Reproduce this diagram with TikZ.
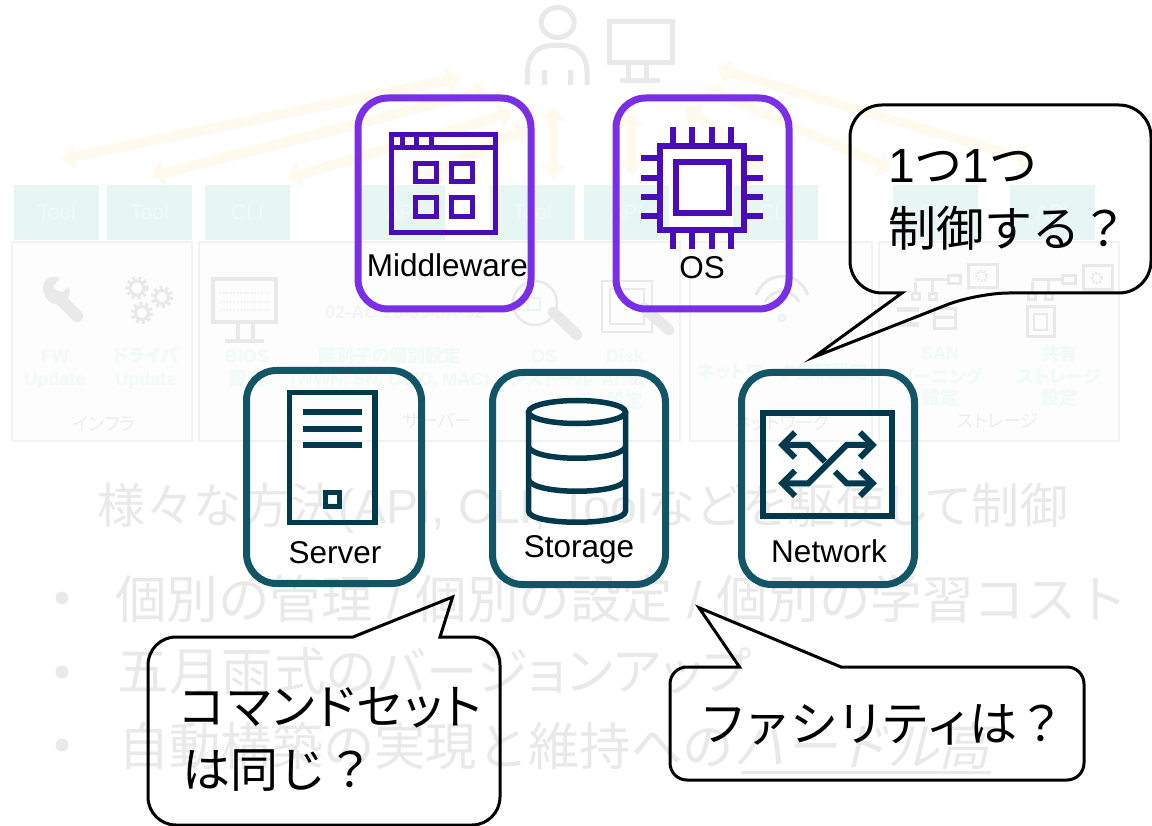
\documentclass[tikz,border=0pt]{standalone}
\usepackage{fontspec}
\usetikzlibrary{arrows.meta}
\setmainfont{Liberation Sans}
\newfontfamily\jp[RawFeature=+palt]{Noto Sans CJK JP}
\newfontfamily\jpf{Noto Sans CJK JP}
\newfontfamily\jpa[RawFeature=+palt,LetterSpace=4]{Noto Sans CJK JP}
\newfontfamily\jpb[RawFeature=+palt,LetterSpace=9]{Noto Sans CJK JP}
\newfontfamily\jpc[RawFeature=+palt,LetterSpace=2.5]{Noto Sans CJK JP}
\newfontfamily\jpd[RawFeature=+palt,LetterSpace=1.6]{Noto Sans CJK JP}
\newfontfamily\jpsl[FakeSlant=0.25]{Noto Sans CJK JP}
\newcommand{\fs}[1]{\fontsize{#1}{#1}\selectfont}
\definecolor{fadegrey}{HTML}{E9E9E9}
\definecolor{fadearrow}{HTML}{FFFAEC}
\definecolor{fadeshadow}{HTML}{FAFAF8}
\definecolor{fadeteal}{HTML}{E7F6F2}
\definecolor{fadetealtext}{HTML}{F1FAF8}
\definecolor{fadegreen}{HTML}{F0FAF7}
\definecolor{panelline}{HTML}{F1F2F3}
\definecolor{panelfill}{HTML}{FDFDFD}
\definecolor{purpleedge}{HTML}{7A2FE6}
\definecolor{purpleicon}{HTML}{4A0CB8}
\definecolor{tealedge}{HTML}{115567}
\definecolor{tealicon}{HTML}{03394D}
\tikzset{
  farrow/.style={line width=8pt,color=fadearrow,{Triangle[width=23pt,length=12pt]}-{Triangle[width=23pt,length=12pt]}},
  fshadow/.style={line width=8pt,color=fadeshadow,{Triangle[width=23pt,length=12pt]}-{Triangle[width=23pt,length=12pt]}},
  panelbox/.style={draw=panelline,fill=panelfill,line width=2pt},
  tabbox/.style={fill=fadeteal,draw=none},
  tablabel/.style={text=fadetealtext,font=\fs{21}},
  biglabel/.style={text=fadegrey,anchor=base west,inner sep=0pt},
  smallgreen/.style={text=fadegreen,font=\fs{18}\bfseries,inner sep=0pt,anchor=base},
  panelname/.style={text=fadegrey!80!white,font=\jp\fs{18},inner sep=0pt,anchor=base},
  ficon/.style={draw=fadegrey,line width=3pt},
  purplebox/.style={draw=purpleedge,line width=7pt,rounded corners=30pt},
  tealbox/.style={draw=tealedge,line width=7pt,rounded corners=30pt},
  picon/.style={draw=purpleicon,line width=5.5pt},
  ticon/.style={draw=tealicon,line width=5.5pt},
  boxlabel/.style={text=black,font=\fs{31.5},inner sep=0pt,anchor=base},
  callout/.style={draw=black,line width=3pt,miter limit=10},
  calltext/.style={text=black,font=\jp\fs{48},inner sep=0pt,anchor=base west},
}
\begin{document}
\begin{tikzpicture}[x=1pt,y=-1pt]
\useasboundingbox (0,0) rectangle (1152,826);
\fill[white] (0,0) rectangle (1152,826);

%% faded layer: person and monitor
\begin{scope}[draw=fadegrey,line width=5pt]
  \draw (557.7,22.5) ellipse (16.5 and 15);
  \draw (527.5,85) -- (527.5,72) .. controls (527.5,55) and (538,45.5) .. (552,45.5) -- (563,45.5) .. controls (577,45.5) and (587,55) .. (587,72) -- (587,85);
  \draw (544,70) -- (544,85) (570,70) -- (570,85);
  \draw (609.5,21.5) rectangle (672,62.5);
  \draw (628,65) -- (628,80) (646,65) -- (646,80);
  \draw (620,80.5) -- (660,80.5);
\end{scope}

%% faded arrows
\foreach \xa/\ya/\xb/\yb in {62/158/459/77, 152/175/487/90, 288/177/511/112, 423/177/527/128, 553/107/553/177, 631/113/631/173, 717/68/1033/160, 707/88/890/168, 685/107/767/165}{
  \draw[fshadow] (\xa+1,\ya+2) -- (\xb+1,\yb+2);
  \draw[farrow] (\xa,\ya) -- (\xb,\yb);
}

%% faded panels
\draw[panelbox] (12,242) rectangle (192,441);
\draw[panelbox] (199,242) rectangle (680,441);
\draw[panelbox] (690,242) rectangle (872,441);
\draw[panelbox] (879,242) rectangle (1119,441);

%% faded tabs
\foreach \nm/\xa/\txt in {ta/14/Tool, tb/107/Tool, tc/205/CLI, td/360/API, te/490/Tool, tf/584/API, tg/733/CLI, th/893/CLI, ti/1010/API}{
  \fill[tabbox] (\xa,185) rectangle (\xa+85,240);
  \node[tablabel] (\nm) at (\xa+42.5,212) {\txt};
}

%% faded panel icons: wrench
\draw[fadegrey,line width=12pt,line cap=round] (58,297) -- (77,316);
\fill[fadegrey] (43,288) .. controls (43,278) and (52,275) .. (60,278) -- (53,287) -- (60,294) -- (69,287) .. controls (72,297) and (64,306) .. (54,304) .. controls (47,302) and (43,295) .. (43,288) -- cycle;
%% gears
\foreach \cx/\cy/\rr in {137/288/7, 162/297/6.5, 142/313/6.5}{
  \draw[fadegrey,line width=3pt] (\cx,\cy) circle (\rr);
  \draw[fadegrey,line width=3.5pt,dash pattern=on 3pt off 3pt] (\cx,\cy) circle (\rr+3);
}
%% BIOS monitor
\draw[ficon,line width=4.5pt] (213,279) rectangle (276,322);
\foreach \yy in {293,302,310}{\draw[fadegrey!60!white,line width=1.5pt,dash pattern=on 2pt off 1.5pt] (219,\yy) -- (271,\yy);}
\draw[ficon,line width=4.5pt] (238,323) -- (238,340) (253,323) -- (253,340);
\draw[ficon,line width=4.5pt] (225,341) -- (264,341);
%% OS magnifier
\draw[ficon,line width=2.5pt] (535,303) circle (22);
\draw[fadegrey,line width=11pt,line cap=round] (553,312) -- (577,335);
\draw[fadeteal,line width=1.5pt] (528,298) rectangle (540,310);
%% disk
\draw[ficon,line width=2.5pt] (602,281) rectangle (652,332);
\draw[ficon,line width=2pt] (610,289) rectangle (644,324);
\draw[fadegrey,line width=11pt,line cap=round] (644,308) -- (669,330);
%% wifi
\draw[ficon,line width=3pt] (756,295) .. controls (766,270) and (798,270) .. (808,295);
\draw[ficon,line width=3pt] (765,302) .. controls (772,288) and (792,288) .. (799,302);
\draw[fadeteal,line width=2.5pt] (782,318) circle (3);
%% SAN
\begin{scope}[fadegrey,line width=2.5pt]
  \draw[ficon] (968,265) rectangle (997,288);
  \draw[ficon,line width=2.5pt,dash pattern=on 2pt off 1.5pt] (982,276) circle (5);
  \draw[ficon] (948,276) rectangle (960,284);
  \draw[ficon] (915,282) -- (915,293) (915,280) -- (948,280) (932,280) -- (932,293);
  \draw[ficon] (912,294) rectangle (919,300) (929,294) rectangle (936,300);
  \draw[ficon,line width=5pt] (897,310) -- (919,310) (897,325) -- (919,325);
  \draw[ficon] (934,309) rectangle (955,329) (934,318) -- (955,318);
  \draw[ficon] (1083,266) rectangle (1112,290);
  \draw[ficon,line width=2.5pt,dash pattern=on 2pt off 1.5pt] (1097,278) circle (5);
  \draw[ficon] (1062,276) rectangle (1075,284);
  \draw[ficon] (1032,282) -- (1032,293) (1032,280) -- (1062,280) (1048,280) -- (1048,293);
  \draw[ficon] (1028,294) rectangle (1035,300) (1045,294) rectangle (1052,300);
  \draw[ficon] (1027,307) rectangle (1054,337);
  \draw[ficon,line width=2pt] (1034,314) rectangle (1047,330);
\end{scope}
\node[text=fadegrey!50!white,font=\fs{18}\bfseries,inner sep=0pt,anchor=base] (mac) at (405,319) {02-AC-29-39-0A-92};

%% faded small labels
\node[smallgreen] (l1a) at (55,363) {FW};
\node[smallgreen] (l1b) at (55,386) {Update};
\node[smallgreen,font=\jp\fs{18}\bfseries] (l2a) at (146,363) {ドライバ};
\node[smallgreen] (l2b) at (146,386) {Update};
\node[smallgreen] (l3a) at (247,363) {BIOS};
\node[smallgreen,font=\jp\fs{18}\bfseries] (l3b) at (247,386) {設定};
\node[smallgreen,font=\jp\fs{18}\bfseries] (l4a) at (390,363) {識別子の個別設定};
\node[smallgreen] (l4b) at (390,386) {(WWN, SN, UUID, MAC)};
\node[smallgreen] (l5a) at (544,363) {OS};
\node[smallgreen,font=\jp\fs{18}\bfseries] (l5b) at (544,386) {インストール};
\node[smallgreen] (l6a) at (625,363) {Disk};
\node[smallgreen] (l6b) at (625,386) {Array};
\node[smallgreen,font=\jp\fs{18}\bfseries] (l6c) at (625,407) {設定};
\node[smallgreen,font=\jp\fs{18}\bfseries] (l7) at (783,379) {ネットワーク接続設定};
\node[smallgreen] (l8a) at (940,360) {SAN};
\node[smallgreen,font=\jp\fs{18}\bfseries] (l8b) at (940,384) {ゾーニング};
\node[smallgreen,font=\jp\fs{18}\bfseries] (l8c) at (940,405) {設定};
\node[smallgreen,font=\jp\fs{18}\bfseries] (l9a) at (1059,361) {共有};
\node[smallgreen,font=\jp\fs{18}\bfseries] (l9b) at (1059,384) {ストレージ};
\node[smallgreen,font=\jp\fs{18}\bfseries] (l9c) at (1059,405) {設定};
\node[panelname] (p1) at (104,431) {インフラ};
\node[panelname] (p2) at (438,428) {サーバー};
\node[panelname] (p3) at (782,429) {ネットワーク};
\node[panelname] (p4) at (998,428) {ストレージ};

%% faded big text
\node[biglabel,font=\fs{48}] (h) at (97,523) {{\jpc 様々な方法}(API, CLI, Tool{\jpc などを駆使して制御}};
\fill[fadegrey] (62,598) circle (6.5) (62,672) circle (6.5) (62,745) circle (6.5);
\node[biglabel,font=\fs{51.5}] (b1) at (115,618) {{\jpf 個別の管理} / {\jpf 個別の設定} / {\jpf 個別の学習コスト}};
\node[biglabel,font=\jpd\fs{51.5}] (b2) at (117,690) {五月雨式のバージョンアップ};
\node[biglabel,font=\jpf\fs{51.3}] (b3) at (118,765) {自動構築の実現と維持への{\jpsl ハードル高}};
\draw[fadegrey,line width=3pt] (741,772) -- (991,772);

%% foreground: purple boxes
\draw[purplebox] (358,98) rectangle (531,309);
\draw[purplebox] (616,98) rectangle (789,309);
%% middleware icon
\draw[picon,line width=5pt] (391.5,134.5) rectangle (495.5,232.5);
\draw[picon,line width=5pt] (391.5,147.5) -- (495.5,147.5);
\draw[picon,line width=5pt] (402.5,134.5) -- (402.5,147.5) (416.5,134.5) -- (416.5,147.5) (431,134.5) -- (431,147.5);
\draw[picon,line width=5pt] (415,163.5) rectangle (436,181.5) (451.5,163.5) rectangle (472.5,181.5) (415,197.5) rectangle (436,216.5) (451.5,197.5) rectangle (472.5,216.5);
%% chip icon
\draw[picon,line width=6pt] (660,146) rectangle (744,230);
\draw[picon,line width=6pt] (676,162) rectangle (729,213);
\foreach \pp in {672.7,692,711.7,731.3}{
  \draw[picon,line width=6pt] (\pp,127) -- (\pp,143);
  \draw[picon,line width=6pt] (\pp,233) -- (\pp,249);
}
\foreach \pp in {158,177.7,197,216.3}{
  \draw[picon,line width=6pt] (641,\pp) -- (657,\pp);
  \draw[picon,line width=6pt] (747,\pp) -- (763,\pp);
}
\node[boxlabel] (mw) at (447.5,277) {Middleware};
\node[boxlabel] (os) at (702,279) {OS};

%% teal boxes
\draw[tealbox] (246.5,370.5) rectangle (421.5,583.5);
\draw[tealbox] (492.5,372.5) rectangle (665.5,584.5);
\draw[tealbox] (741.5,372.5) rectangle (914.5,584.5);
%% server icon
\draw[ticon] (289.5,392.5) rectangle (375,522.5);
\draw[ticon,line width=6pt] (302.7,412) -- (361.7,412) (302.7,428.7) -- (361.7,428.7) (302.7,444.7) -- (361.7,444.7);
\draw[ticon] (325.5,492.7) rectangle (339.3,506.3);
%% storage icon
\draw[ticon,line width=5.5pt] (577,412) ellipse (48.5 and 11.5);
\draw[ticon,line width=5.5pt] (528.5,412) -- (528.5,511) .. controls (528.5,526) and (625.5,526) .. (625.5,511) -- (625.5,412);
\draw[ticon,line width=5.5pt] (528.5,447) .. controls (535,462) and (619,462) .. (625.5,447);
\draw[ticon,line width=5.5pt] (528.5,480) .. controls (535,495) and (619,495) .. (625.5,480);
%% switch icon
\draw[ticon,line width=6pt] (763,413) rectangle (892,516);
\begin{scope}[shift={(490,370)},scale=1/3,miter limit=4]
  \draw[ticon,line width=6pt] (915,187) -- (877,225) -- (915,263);
  \draw[ticon,line width=6pt] (915,302) -- (877,340) -- (915,378);
  \draw[ticon,line width=6pt] (1110,187) -- (1148,225) -- (1110,263);
  \draw[ticon,line width=6pt] (1110,302) -- (1148,340) -- (1110,378);
  \draw[ticon,line width=6pt] (877,225) -- (955,225) -- (1005,275);
  \draw[ticon,line width=6pt] (1035,305) -- (1070,340) -- (1148,340);
  \draw[ticon,line width=6pt] (877,340) -- (955,340) -- (1070,225) -- (1148,225);
\end{scope}
\node[boxlabel] (sv) at (335,563) {Server};
\node[boxlabel] (st) at (579,557) {Storage};
\node[boxlabel] (nw) at (829,562) {Network};

%% callouts
\draw[callout,rounded corners=32pt] (1000,105) -- (1151,105) -- (1151,293) -- (977,293) [sharp corners] -- (814,357) -- (902,293) [rounded corners=32pt] -- (850,293) -- (850,105) -- cycle;
\node[calltext,font=\fs{48}] (c1a) at (888,183) {1{\jpf つ}1{\jpf つ}};
\node[calltext,font=\jpf\fs{48}] (c1b) at (888,247) {制御する？};

\draw[callout,rounded corners=28pt] (250,637) [sharp corners] -- (353,637) -- (452.6,597) -- (440,637) [rounded corners=28pt] -- (500,637) -- (500,825) -- (148,825) -- (148,637) -- cycle;
\node[calltext,font=\jpa\fs{48}] (c2a) at (180,724) {コマンドセット};
\node[calltext,font=\jpf\fs{48}] (c2b) at (182,787) {は同じ？};

\draw[callout,rounded corners=17pt] (700,667) [sharp corners] -- (739.5,667) -- (699,607.7) -- (841,667) [rounded corners=17pt] -- (1084,667) -- (1084,780) -- (670,780) -- (670,667) -- cycle;
\node[calltext,font=\jpb\fs{48}] (c3) at (703,741) {ファシリティは{\jpf ？}};
\end{tikzpicture}
\end{document}
